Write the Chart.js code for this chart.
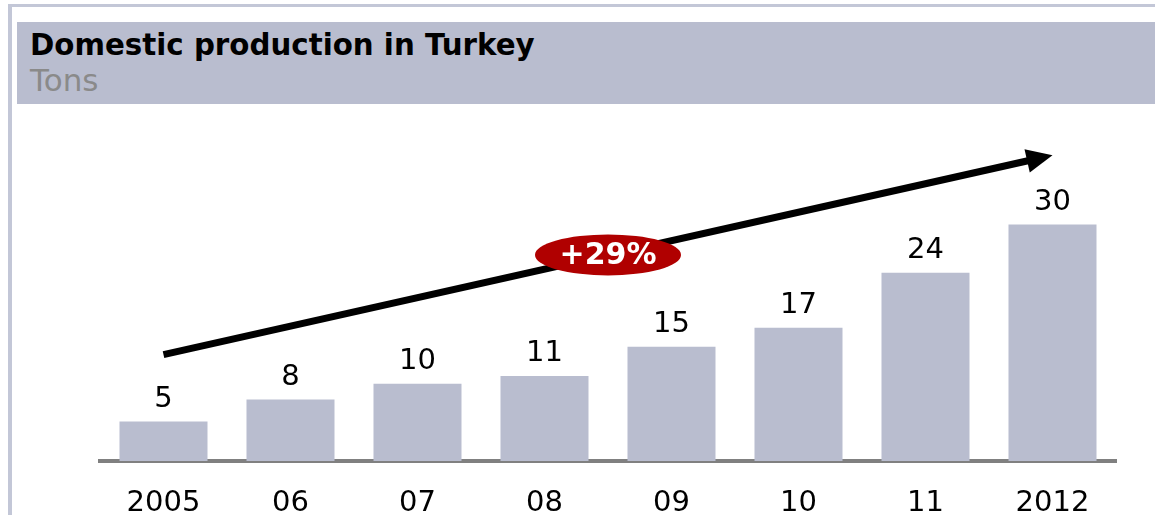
<!DOCTYPE html>
<html>
<head>
<meta charset="utf-8">
<script src="https://cdn.jsdelivr.net/npm/chart.js@4.4.1/dist/chart.umd.min.js"></script>
<style>
  html, body { margin: 0; padding: 0; background: #ffffff; overflow: hidden; }
  #wrap { position: relative; width: 1155px; height: 515px; overflow: hidden; }
  #frame { position: absolute; left: 8px; top: 4px; width: 1200px; height: 600px;
           border-left: 4px solid #c3c7d7; border-top: 3px solid #c3c7d7; box-sizing: border-box; }
  #band { position: absolute; left: 17px; top: 22px; width: 1138px; height: 82px; background: #b9bdcf; }
  .t { position: absolute; left: 30px; font-family: "DejaVu Sans", Verdana, sans-serif; white-space: nowrap; line-height: 34px; }
  #title { top: 28px; font-size: 29.3px; font-weight: bold; color: #000; }
  #sub { top: 63px; font-size: 31px; color: #8a8a8a; }
  canvas { position: absolute; left: 0; top: 0; }
</style>
</head>
<body>
<div id="wrap">
  <div id="frame"></div>
  <div id="band"></div>
  <div class="t" id="title">Domestic production in Turkey</div>
  <div class="t" id="sub">Tons</div>
  <canvas id="c" width="1155" height="545"></canvas>
</div>
<script>
const categories = ["2005", "06", "07", "08", "09", "10", "11", "2012"];
const values = [5.0, 7.8, 9.8, 10.8, 14.5, 16.9, 23.9, 30.0];
const valueLabels = ["5", "8", "10", "11", "15", "17", "24", "30"];
const arrowFrom = [0, 13.5];   // [category index, value]
const arrowTo = [7, 38.8];
const growthLabel = "+29%";

const FONT = '"DejaVu Sans", Verdana, sans-serif';
const BAR = '#b9bdcf';

const overlay = {
  id: 'overlay',
  afterDatasetsDraw(chart) {
    const ctx = chart.ctx;
    const xs = chart.scales.x, ys = chart.scales.y;
    const meta = chart.getDatasetMeta(0);
    ctx.save();
    // value labels
    ctx.fillStyle = '#000';
    ctx.font = '29px ' + FONT;
    ctx.textAlign = 'center';
    ctx.textBaseline = 'alphabetic';
    meta.data.forEach((bar, i) => {
      ctx.fillText(valueLabels[i], bar.x, bar.y - 15);
    });
    // arrow
    const x1 = xs.getPixelForValue(arrowFrom[0]), y1 = ys.getPixelForValue(arrowFrom[1]);
    const x2 = xs.getPixelForValue(arrowTo[0]), y2 = ys.getPixelForValue(arrowTo[1]);
    const ang = Math.atan2(y2 - y1, x2 - x1);
    const headLen = 26, headHalf = 12;
    const bx = x2 - headLen * Math.cos(ang), by = y2 - headLen * Math.sin(ang);
    ctx.strokeStyle = '#000';
    ctx.lineWidth = 7;
    ctx.lineCap = 'butt';
    ctx.beginPath();
    ctx.moveTo(x1, y1);
    ctx.lineTo(bx + 2 * Math.cos(ang), by + 2 * Math.sin(ang));
    ctx.stroke();
    ctx.fillStyle = '#000';
    ctx.beginPath();
    ctx.moveTo(x2, y2);
    ctx.lineTo(bx + headHalf * Math.sin(ang), by - headHalf * Math.cos(ang));
    ctx.lineTo(bx - headHalf * Math.sin(ang), by + headHalf * Math.cos(ang));
    ctx.closePath();
    ctx.fill();
    // growth badge
    const mx = (x1 + x2) / 2, my = (y1 + y2) / 2;
    ctx.fillStyle = '#b00000';
    ctx.beginPath();
    ctx.ellipse(mx, my, 73, 20.5, 0, 0, Math.PI * 2);
    ctx.fill();
    ctx.fillStyle = '#fff';
    ctx.font = 'bold 30px ' + FONT;
    ctx.textBaseline = 'middle';
    ctx.fillText(growthLabel, mx, my + 1);
    ctx.restore();
  }
};

new Chart(document.getElementById('c'), {
  type: 'bar',
  data: {
    labels: categories,
    datasets: [{
      data: values,
      backgroundColor: BAR,
      borderWidth: 0,
      categoryPercentage: 1.0,
      barPercentage: 0.693
    }]
  },
  options: {
    responsive: false,
    animation: false,
    events: [],
    layout: { padding: { left: 100, right: 39, top: 130, bottom: 0 } },
    plugins: { legend: { display: false }, tooltip: { enabled: false }, title: { display: false } },
    scales: {
      x: {
        grid: { display: false, drawTicks: false },
        border: { display: true, color: '#808080', width: 4 },
        ticks: { color: '#000', font: { family: FONT, size: 29, lineHeight: 1 }, padding: 27.5, maxRotation: 0, autoSkip: false }
      },
      y: { display: false, min: 0, max: 42 }
    }
  },
  plugins: [overlay]
});
</script>
</body>
</html>
